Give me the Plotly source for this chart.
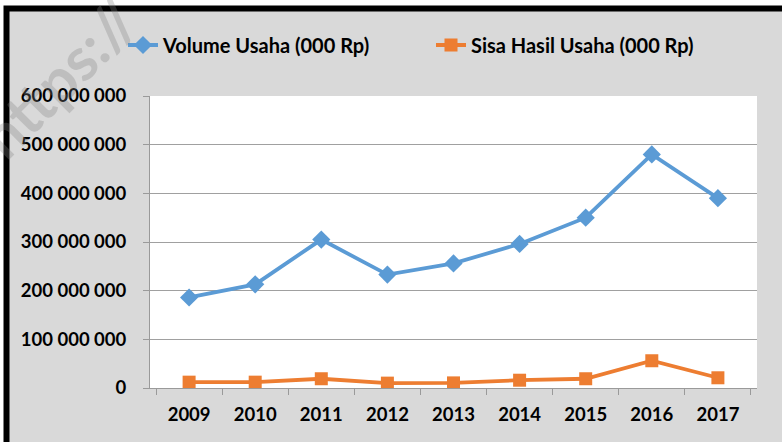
import plotly.graph_objects as go

years = ["2009", "2010", "2011", "2012", "2013", "2014", "2015", "2016", "2017"]
volume_usaha = [186e6, 213e6, 305e6, 233e6, 256e6, 296e6, 350e6, 480e6, 390e6]
sisa_hasil_usaha = [12e6, 12e6, 19e6, 10e6, 10.5e6, 16e6, 19e6, 56e6, 21e6]
y_ticks = [0, 100e6, 200e6, 300e6, 400e6, 500e6, 600e6]
y_tick_text = ["0", "100 000 000", "200 000 000", "300 000 000", "400 000 000", "500 000 000", "600 000 000"]

FONT = "Lato"
L, R, T, B = 150, 25, 96, 54
W, H = 782, 442
PW, PH = W - L - R, H - T - B

def fx(px):
    return (px - L) / PW

def fy(py):
    return 1 - (py - T) / PH

fig = go.Figure()
fig.add_trace(go.Scatter(
    x=years, y=volume_usaha, name="Volume Usaha (000 Rp)", mode="lines+markers",
    line=dict(color="#5b9bd5", width=3.8),
    marker=dict(symbol="diamond", size=14, color="#5b9bd5"),
))
fig.add_trace(go.Scatter(
    x=years, y=sisa_hasil_usaha, name="Sisa Hasil Usaha (000 Rp)", mode="lines+markers",
    line=dict(color="#ed7d31", width=3.8),
    marker=dict(symbol="square", size=13, color="#ed7d31"),
))

fig.update_layout(
    width=W, height=H,
    margin=dict(l=L, r=R, t=T, b=B, autoexpand=False),
    paper_bgcolor="white",
    plot_bgcolor="rgba(0,0,0,0)",
    font=dict(family=FONT, color="black", size=18, weight="bold"),
    showlegend=True,
    legend=dict(
        orientation="h", x=fx(123), xanchor="left", y=fy(45), yanchor="middle",
        entrywidth=263, entrywidthmode="pixels",
        font=dict(family=FONT, size=20, color="black", weight="bold"),
        bgcolor="rgba(0,0,0,0)",
    ),
    xaxis=dict(
        type="category", showgrid=False, showline=True, linecolor="#9a9a9a", linewidth=1,
        ticks="outside", ticklen=6, tickcolor="#9a9a9a", tickson="boundaries",
        tickfont=dict(family=FONT, size=18.5, color="black", weight="bold"),
        fixedrange=True, ticklabelstandoff=10,
    ),
    yaxis=dict(
        range=[0, 600e6], tickvals=y_ticks, ticktext=y_tick_text,
        showgrid=True, gridcolor="#a0a0a0", gridwidth=1,
        showline=True, linecolor="#9a9a9a", linewidth=1,
        ticks="outside", ticklen=6, tickcolor="#9a9a9a",
        tickfont=dict(family=FONT, size=18.5, color="black", weight="bold"),
        zeroline=False, fixedrange=True, ticklabelstandoff=13,
    ),
    shapes=[
        dict(type="rect", xref="paper", yref="paper", layer="below",
             x0=fx(6.5), x1=fx(800), y0=fy(460), y1=fy(8.5),
             fillcolor="#d9d9d9", line=dict(color="black", width=6)),
        dict(type="rect", xref="paper", yref="paper", layer="below",
             x0=0, x1=1, y0=0, y1=1, fillcolor="white", line=dict(width=0)),
    ],
    annotations=[
        dict(text="https://", xref="paper", yref="paper", x=fx(58), y=fy(78),
             xanchor="center", yanchor="middle",
             showarrow=False, textangle=-45,
             font=dict(family=FONT, size=60, color="rgba(128,128,128,0.3)", weight="bold")),
    ],
)

fig.write_html("out.html", config={"displayModeBar": False},
               post_script="document.body.style.margin='0';")
